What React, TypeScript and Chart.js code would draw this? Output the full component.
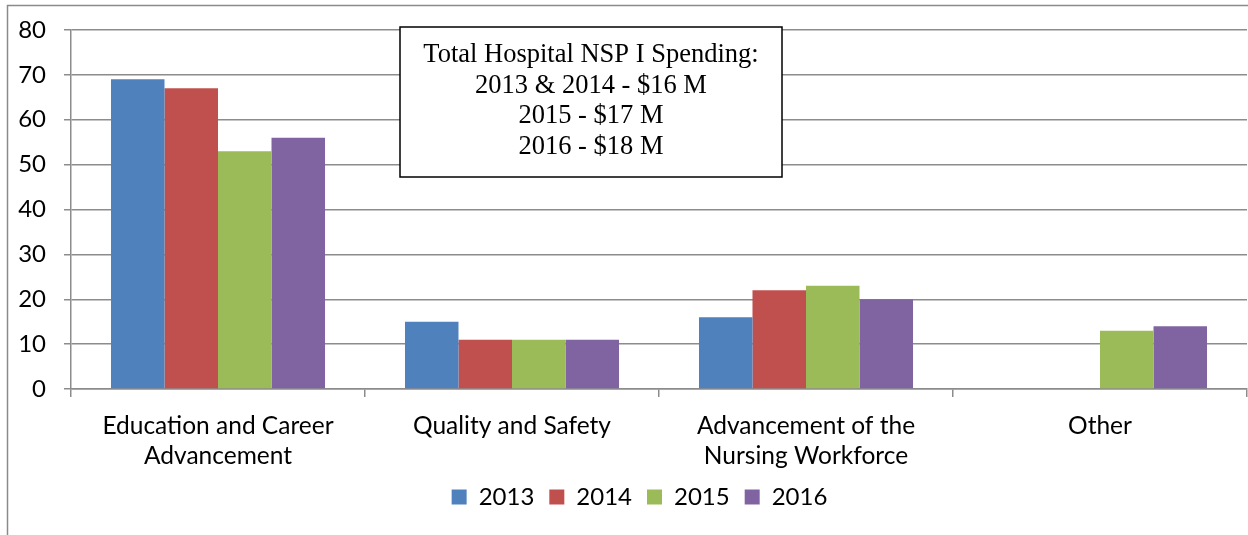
import React, { useEffect, useRef } from "react";
import Chart from "chart.js/auto";

const categories: string[][] = [
  ["Education and Career", "Advancement"],
  ["Quality and Safety"],
  ["Advancement of the", "Nursing Workforce"],
  ["Other"],
];
const seriesNames = ["2013", "2014", "2015", "2016"];
const values2013 = [69, 15, 16, null];
const values2014 = [67, 11, 22, null];
const values2015 = [53, 11, 23, 13];
const values2016 = [56, 11, 20, 14];
const seriesColors = ["#4F81BD", "#C0504D", "#9BBB59", "#8064A2"];
const yTicks = { min: 0, max: 80, step: 10 };
const boxLines = [
  "Total Hospital NSP I Spending:",
  "2013 & 2014 - $16 M",
  "2015 - $17 M",
  "2016 - $18 M",
];

const GRID = "#8c8c8c";
const FONT = "Lato, 'Open Sans', sans-serif";

const framePlugin = {
  id: "frame",
  beforeDraw(chart: any) {
    const ctx = chart.ctx;
    ctx.save();
    ctx.fillStyle = "#ffffff";
    ctx.fillRect(0, 0, chart.width, chart.height);
    ctx.strokeStyle = "#8a8a8a";
    ctx.lineWidth = 1.5;
    ctx.beginPath();
    ctx.moveTo(7.5, chart.height + 2);
    ctx.lineTo(7.5, 5.5);
    ctx.lineTo(chart.width + 2, 5.5);
    ctx.stroke();
    ctx.restore();
  },
};

// nudge the built-in legend so it is centred like the reference
const legendShiftPlugin = {
  id: "legendShift",
  afterLayout(chart: any) {
    if (chart.legend) {
      chart.legend.left += 16;
      chart.legend.right += 16;
    }
  },
};

const textBoxPlugin = {
  id: "textBox",
  afterDatasetsDraw(chart: any) {
    const ctx = chart.ctx;
    const x0 = 400;
    const y0 = 27;
    const w = 382;
    const h = 150;
    ctx.save();
    ctx.fillStyle = "#ffffff";
    ctx.fillRect(x0, y0, w, h);
    ctx.strokeStyle = "#000000";
    ctx.lineWidth = 1.5;
    ctx.strokeRect(x0, y0, w, h);
    ctx.fillStyle = "#000000";
    ctx.font = "26.5px 'Liberation Serif', 'Times New Roman', serif";
    ctx.textAlign = "center";
    ctx.textBaseline = "alphabetic";
    boxLines.forEach((line, i) => {
      ctx.fillText(line, x0 + w / 2, 62 + i * 30.5);
    });
    ctx.restore();
  },
};

export default function App() {
  const ref = useRef<HTMLCanvasElement>(null);
  useEffect(() => {
    if (!ref.current) return;
    const allValues = [values2013, values2014, values2015, values2016];
    const chart = new Chart(ref.current, {
      type: "bar",
      data: {
        labels: categories,
        datasets: seriesNames.map((name, i) => ({
          label: name,
          data: allValues[i],
          backgroundColor: seriesColors[i],
          borderWidth: 0,
          categoryPercentage: 0.728,
          barPercentage: 1,
        })),
      },
      plugins: [framePlugin, legendShiftPlugin, textBoxPlugin],
      options: {
        animation: false,
        responsive: false,
        devicePixelRatio: 1,
        layout: { padding: { top: 29, right: 1, left: 0, bottom: 16 } },
        plugins: {
          tooltip: { enabled: false },
          legend: {
            position: "bottom",
            labels: {
              boxWidth: 15,
              boxHeight: 15,
              padding: 15,
              color: "#000",
              font: { family: FONT, size: 24 },
            },
          },
        },
        scales: {
          x: {
            offset: true,
            grid: {
              offset: true,
              drawOnChartArea: false,
              drawTicks: true,
              tickLength: 8,
              color: GRID,
              lineWidth: 1.5,
            },
            border: { display: true, color: GRID, width: 1.5 },
            ticks: {
              color: "#000",
              padding: 14,
              maxRotation: 0,
              autoSkip: false,
              font: { family: FONT, size: 24.5, lineHeight: 1.225 },
            },
            afterFit(scale: any) {
              scale.height = 81;
            },
          },
          y: {
            min: yTicks.min,
            max: yTicks.max,
            ticks: {
              stepSize: yTicks.step,
              color: "#000",
              padding: 18,
              font: { family: FONT, size: 24, lineHeight: 1 },
            },
            grid: { color: GRID, lineWidth: 1.5, tickLength: 7 },
            border: { display: true, color: GRID, width: 1.5 },
            afterFit(scale: any) {
              scale.width = 71;
            },
          },
        },
      },
    });
    return () => chart.destroy();
  }, []);
  return (
    <div style={{ position: "absolute", left: 0, top: 0, width: 1248, height: 535 }}>
      <canvas ref={ref} width={1248} height={535} style={{ display: "block" }} />
    </div>
  );
}
